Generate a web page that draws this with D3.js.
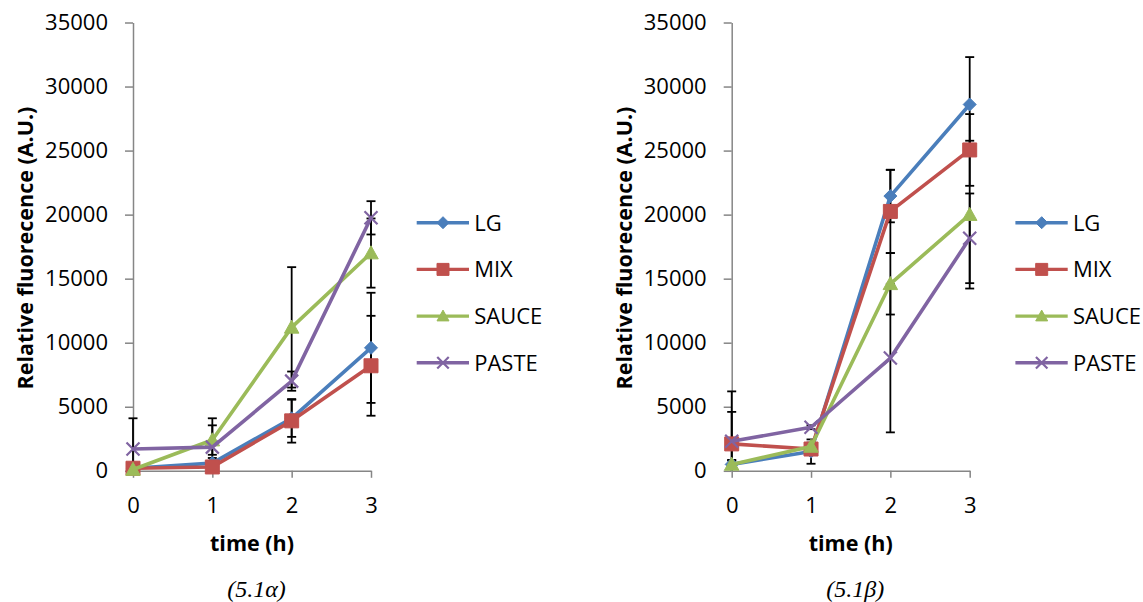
<!DOCTYPE html>
<html>
<head>
<meta charset="utf-8">
<script src="https://cdn.jsdelivr.net/npm/d3@7"></script>
<style>
  html, body { margin: 0; padding: 0; background: #fff; }
  svg { display: block; }
</style>
</head>
<body>
<svg id="chart" width="1143" height="602"></svg>
<script>
// Time points and axis ticks
const timeH = [0, 1, 2, 3]
const yTicks = [0, 5000, 10000, 15000, 20000, 25000, 30000, 35000]
const seriesNames = ['LG', 'MIX', 'SAUCE', 'PASTE']

// Panel (5.1α) values and error bars
const alphaLG = [200, 600, 4100, 9600]
const alphaLGErr = [300, 400, 1450, 4300]
const alphaMIX = [200, 300, 3900, 8200]
const alphaMIXErr = [200, 300, 1700, 3900]
const alphaSAUCE = [100, 2400, 11200, 17000]
const alphaSAUCEErr = [100, 1150, 4700, 2700]
const alphaPASTE = [1700, 1850, 7000, 19750]
const alphaPASTEErr = [2400, 2250, 750, 1300]

// Panel (5.1β) values and error bars
const betaLG = [500, 1500, 21450, 28600]
const betaLGErr = [350, 950, 2050, 3700]
const betaMIX = [2100, 1700, 20250, 25050]
const betaMIXErr = [2500, 300, 3250, 2800]
const betaSAUCE = [500, 1900, 14600, 20000]
const betaSAUCEErr = [300, 300, 2400, 5770]
const betaPASTE = [2300, 3400, 8800, 18150]
const betaPASTEErr = [3900, 150, 5800, 3500]

const COLORS = { LG: '#4a7ebb', MIX: '#c0504d', SAUCE: '#9bbb59', PASTE: '#8064a2' }
const FONT = "'Open Sans', 'DejaVu Sans', sans-serif"

const panels = [
  {
    caption: '(5.1α)', left: 133,
    values: [alphaLG, alphaMIX, alphaSAUCE, alphaPASTE],
    errors: [alphaLGErr, alphaMIXErr, alphaSAUCEErr, alphaPASTEErr]
  },
  {
    caption: '(5.1β)', left: 731.7,
    values: [betaLG, betaMIX, betaSAUCE, betaPASTE],
    errors: [betaLGErr, betaMIXErr, betaSAUCEErr, betaPASTEErr]
  }
]

const svg = d3.select('#chart')
const plotW = 238
const plotTop = 22.5
const plotBottom = 470.8

// marker shapes, centred on 0,0
const markerPath = (name, s) => {
  const h = s / 2
  if (name === 'LG') return `M0,${-h}L${h},0L0,${h}L${-h},0Z`
  if (name === 'MIX') return `M${-h},${-h}H${h}V${h}H${-h}Z`
  if (name === 'SAUCE') return `M0,${-h}L${h},${h * 0.8}L${-h},${h * 0.8}Z`
  return `M${-h},${-h}L${h},${h}M${h},${-h}L${-h},${h}`
}

const drawMarker = (g, name, x, y, s) => {
  const isX = name === 'PASTE'
  g.append('path')
    .attr('transform', `translate(${x},${y})`)
    .attr('d', markerPath(name, s))
    .attr('fill', isX ? 'none' : COLORS[name])
    .attr('stroke', COLORS[name])
    .attr('stroke-width', isX ? 2.2 : 1)
}

panels.forEach(panel => {
  const g = svg.append('g')

  const x = d3.scaleLinear().domain([0, 3]).range([panel.left, panel.left + plotW])
  const y = d3.scaleLinear().domain([0, 35000]).range([plotBottom, plotTop])

  // Axes
  const yAxis = g.append('g')
    .attr('transform', `translate(${panel.left},0)`)
    .call(d3.axisLeft(y).tickValues(yTicks).tickSize(8).tickSizeOuter(0).tickPadding(17).tickFormat(d3.format('d')))
  const xAxis = g.append('g')
    .attr('transform', `translate(0,${plotBottom})`)
    .call(d3.axisBottom(x).tickValues(timeH).tickSize(7).tickSizeOuter(0).tickPadding(19.5).tickFormat(d3.format('d')))

  ;[yAxis, xAxis].forEach(a => {
    a.select('.domain').attr('stroke', '#868686').attr('stroke-width', 1.5)
    a.selectAll('.tick line').attr('stroke', '#868686').attr('stroke-width', 1.5)
    a.selectAll('.tick text').attr('fill', '#000').style('font-family', FONT).style('font-size', '22px')
  })

  // Axis titles
  g.append('text')
    .attr('transform', `translate(${panel.left - 100},248) rotate(-90)`)
    .attr('text-anchor', 'middle')
    .style('font-family', FONT).style('font-size', '21.5px').style('font-weight', 'bold')
    .text('Relative fluorecence (A.U.)')

  g.append('text')
    .attr('x', panel.left + plotW / 2).attr('y', 551)
    .attr('text-anchor', 'middle')
    .style('font-family', FONT).style('font-size', '21.5px').style('font-weight', 'bold')
    .text('time (h)')

  g.append('text')
    .attr('x', panel.left + plotW / 2 + 4.5).attr('y', 597)
    .attr('text-anchor', 'middle')
    .style('font-family', "'Liberation Serif', 'DejaVu Serif', serif")
    .style('font-style', 'italic').style('font-size', '24px')
    .text(panel.caption)

  // Series: error bars, line, markers
  const line = d3.line().x((d, i) => x(timeH[i])).y(d => y(d))
  seriesNames.forEach((name, si) => {
    const vals = panel.values[si]
    const errs = panel.errors[si]
    const eb = g.append('g').attr('stroke', '#000').attr('stroke-width', 1.8)
    vals.forEach((v, i) => {
      const cx = x(timeH[i])
      const hi = v + errs[i]
      const lo = Math.max(0, v - errs[i])
      eb.append('line').attr('x1', cx).attr('x2', cx).attr('y1', y(hi)).attr('y2', y(lo))
      eb.append('line').attr('x1', cx - 4.5).attr('x2', cx + 4.5).attr('y1', y(hi)).attr('y2', y(hi))
      if (v - errs[i] > 0) {
        eb.append('line').attr('x1', cx - 4.5).attr('x2', cx + 4.5).attr('y1', y(lo)).attr('y2', y(lo))
      }
    })
  })
  seriesNames.forEach((name, si) => {
    const vals = panel.values[si]
    g.append('path')
      .attr('d', line(vals))
      .attr('fill', 'none')
      .attr('stroke', COLORS[name])
      .attr('stroke-width', 3.6)
      .attr('stroke-linejoin', 'round')
    const sizes = { LG: 13, MIX: 14, SAUCE: 14.5, PASTE: 13 }
    vals.forEach((v, i) => drawMarker(g, name, x(timeH[i]), y(v), sizes[name]))
  })

  // Legend
  const lx = panel.left + 283.7
  seriesNames.forEach((name, si) => {
    const ly = 222.7 + si * 46.7
    g.append('line')
      .attr('x1', lx).attr('x2', lx + 52.3).attr('y1', ly).attr('y2', ly)
      .attr('stroke', COLORS[name]).attr('stroke-width', 3.4)
    drawMarker(g, name, lx + 26.3, ly, name === 'PASTE' ? 11.5 : 12)
    g.append('text')
      .attr('x', lx + 57.5).attr('y', ly + 7.8)
      .style('font-family', FONT).style('font-size', '22px')
      .text(name)
  })
})
</script>
</body>
</html>
